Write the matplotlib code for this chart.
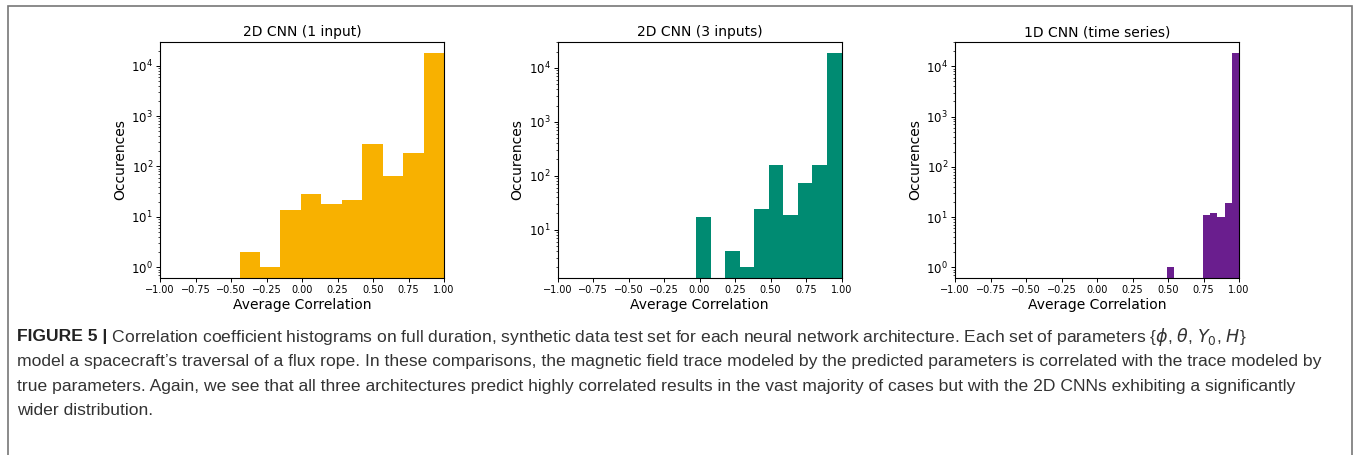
import numpy as np
import matplotlib
matplotlib.use("Agg")
import matplotlib.pyplot as plt
from matplotlib.patches import Rectangle

# ---------------- data ----------------
titles = ["2D CNN (1 input)", "2D CNN (3 inputs)", "1D CNN (time series)"]
colors = ["#F8B100", "#008B72", "#6A1E8E"]

# bin edges: 10 equal bins between min and max of each set
edges_1input = np.linspace(-0.44, 1.0, 11)
counts_1input = [2, 1, 14, 29, 18, 22, 276, 66, 186, 18100]

edges_3inputs = np.linspace(-0.022, 1.0, 11)
counts_3inputs = [17, 0, 4, 2, 24, 160, 19, 72, 160, 19100]

edges_1d = np.linspace(0.495, 1.0, 11)
counts_1d = [1, 0, 0, 0, 0, 11, 12, 10, 19, 18700]

edges_all = [edges_1input, edges_3inputs, edges_1d]
counts_all = [counts_1input, counts_3inputs, counts_1d]

xticks = [-1.0, -0.75, -0.5, -0.25, 0.0, 0.25, 0.5, 0.75, 1.0]
xlabel = "Average Correlation"
ylabel = "Occurences"

caption_bold = "FIGURE 5 |"
caption_lines = [
    " Correlation coefficient histograms on full duration, synthetic data test set for each neural network architecture. Each set of parameters {$\\phi$, $\\theta$, $Y_0$, $H$}",
    "model a spacecraft\u2019s traversal of a flux rope. In these comparisons, the magnetic field trace modeled by the predicted parameters is correlated with the trace modeled by",
    "true parameters. Again, we see that all three architectures predict highly correlated results in the vast majority of cases but with the 2D CNNs exhibiting a significantly",
    "wider distribution.",
]

# ---------------- figure ----------------
W, H = 1354, 455
fig = plt.figure(figsize=(W / 100, H / 100), dpi=100)

# outer frame
fig.patches.append(Rectangle((8 / W, -0.05), (1352 - 8) / W, 1 - 6 / H + 0.05,
                             transform=fig.transFigure, fill=False,
                             edgecolor="#777777", linewidth=1.2))

lefts = [160, 557.5, 955]
ax_w = 284
ax_top, ax_bot = 42, 278

for i in range(3):
    ax = fig.add_axes([lefts[i] / W, 1 - ax_bot / H, ax_w / W, (ax_bot - ax_top) / H])
    e = edges_all[i]
    c = counts_all[i]
    ax.hist(e[:-1], bins=e, weights=c, color=colors[i], log=True)
    ax.set_xlim(-1, 1)
    ax.set_xticks(xticks)
    ax.set_xticklabels([f"{t:.2f}".replace("-", "\u2212") for t in xticks])
    ax.tick_params(axis="x", labelsize=7.0, length=3, width=0.7, pad=2)
    ax.tick_params(axis="y", which="major", labelsize=8.5, length=3, width=0.7, pad=2)
    ax.tick_params(axis="y", which="minor", length=1.8, width=0.5)
    ax.set_title(titles[i], fontsize=10, pad=4)
    ax.set_xlabel(xlabel, fontsize=10, labelpad=2)
    ax.set_ylabel(ylabel, fontsize=10, labelpad=3)
    for s in ax.spines.values():
        s.set_linewidth(0.8)

# ---------------- caption ----------------
cap_font = ["Liberation Sans Narrow", "Liberation Sans", "DejaVu Sans"]
cap_size = 12.6
line_y = [337, 361.5, 386, 410.5]
b = fig.text(17 / W, 1 - line_y[0] / H, caption_bold, fontsize=cap_size, fontweight="bold",
             family=cap_font, va="center", ha="left", color="#222222")
fig.canvas.draw()
bb = b.get_window_extent(renderer=fig.canvas.get_renderer())
fig.text(bb.x1 / W, 1 - line_y[0] / H, caption_lines[0], fontsize=cap_size, family=cap_font,
         va="center", ha="left", color="#333333")
for k in range(1, 4):
    fig.text(17 / W, 1 - line_y[k] / H, caption_lines[k], fontsize=cap_size, family=cap_font,
             va="center", ha="left", color="#333333")

fig.savefig("out.png", dpi=100)
